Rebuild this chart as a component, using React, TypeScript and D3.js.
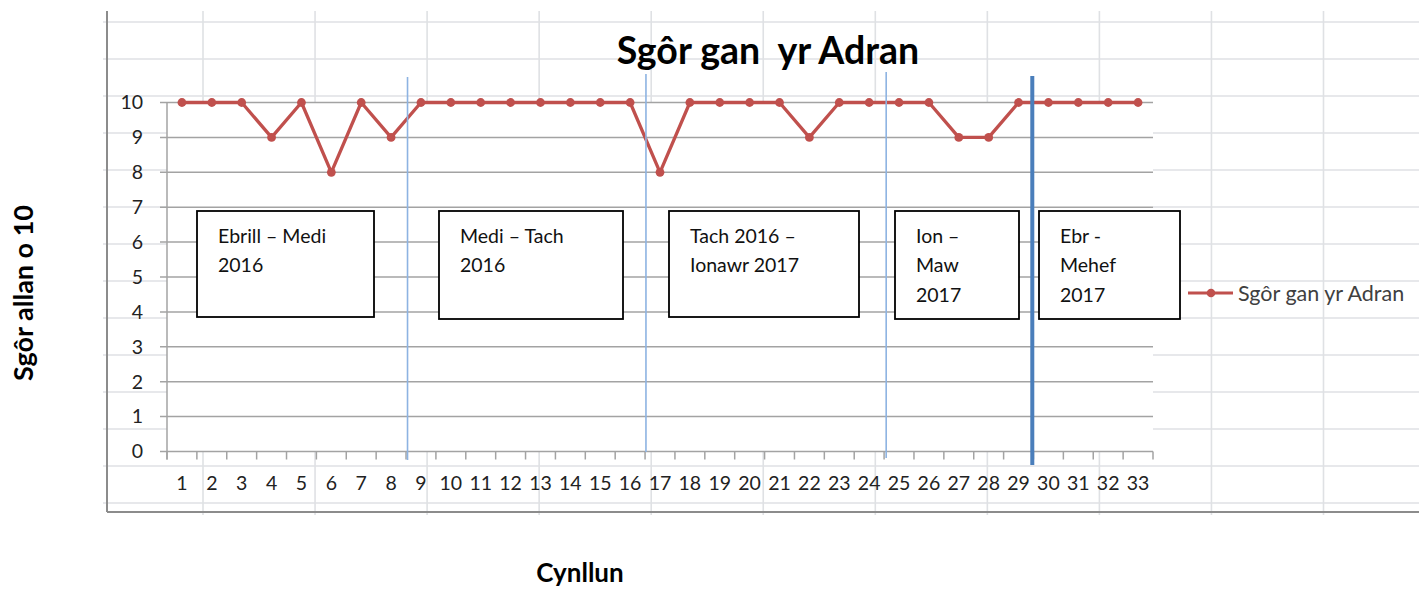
import React from "react";
import * as d3 from "d3";

// ---- data ----
const categories: number[] = d3.range(1, 34);
const scores: number[] = [
  10, 10, 10, 9, 10, 8, 10, 9, 10, 10, 10, 10, 10, 10, 10, 10,
  8, 10, 10, 10, 10, 9, 10, 10, 10, 10, 9, 9, 10, 10, 10, 10, 10,
];
const yTicks: number[] = d3.range(0, 11);
const seriesName = "Sgôr gan yr Adran";
const chartTitle = "Sgôr gan  yr Adran";
const yTitle = "Sgôr allan o 10";
const xTitle = "Cynllun";
// period dividers, in category-boundary units
const dividers: number[] = [8.05, 16.03, 24.07, 28.96];
const periodLabels: string[][] = [
  ["Ebrill – Medi", "2016"],
  ["Medi – Tach", "2016"],
  ["Tach 2016 –", "Ionawr 2017"],
  ["Ion –", "Maw", "2017"],
  ["Ebr -", "Mehef", "2017"],
];

// ---- layout ----
const W = 1419;
const H = 590;
const plot = { left: 167, right: 1153, top: 102.5, bottom: 451.5 };
const font = "Lato, 'Open Sans', sans-serif";
const dividerStyle = [
  { top: 77, bottom: 460, w: 1.6, c: "#8db3e2" },
  { top: 74, bottom: 452, w: 1.6, c: "#8db3e2" },
  { top: 72, bottom: 458, w: 1.6, c: "#8db3e2" },
  { top: 76, bottom: 465, w: 4, c: "#4a7ebb" },
];
const boxLayout = [
  { x0: 197, x1: 374, y0: 211, y1: 317 },
  { x0: 439, x1: 623, y0: 211, y1: 319 },
  { x0: 669, x1: 859, y0: 211, y1: 317 },
  { x0: 895, x1: 1019, y0: 211, y1: 319 },
  { x0: 1039, x1: 1180, y0: 211, y1: 319 },
];
const sheetRows = d3.range(0, 14).map((k) => 22 + 37 * k);
const sheetCols = d3.range(0, 11).map((k) => 203 + 112.05 * k);

export default function App() {
  const x = d3
    .scaleBand<number>()
    .domain(categories)
    .range([plot.left, plot.right])
    .padding(0);
  const xb = d3.scaleLinear().domain([0, categories.length]).range([plot.left, plot.right]);
  const y = d3.scaleLinear().domain([0, 10]).range([plot.bottom, plot.top]);
  const cx = (c: number) => (x(c) as number) + x.bandwidth() / 2;

  const line = d3
    .line<number>()
    .x((_, i) => cx(categories[i]))
    .y((d) => y(d));

  const gridColor = "#a3a3a3";
  const sheetColor = "#dfe1e4";
  const red = "#c0504d";

  return (
    <svg
      width={W}
      height={H}
      style={{ position: "absolute", left: 0, top: 0, background: "#fff", fontFamily: font }}
    >
      {/* spreadsheet background grid */}
      {sheetRows.map((r) => (
        <line key={"r" + r} x1={103} x2={W} y1={r} y2={r} stroke={sheetColor} strokeWidth={1.6} />
      ))}
      {sheetCols.map((c) => (
        <line key={"c" + c} x1={c} x2={c} y1={11} y2={515} stroke={sheetColor} strokeWidth={1.6} />
      ))}
      <line x1={107} x2={107} y1={11} y2={512} stroke="#8c8c8c" strokeWidth={2} />
      <line x1={107} x2={W} y1={512} y2={512} stroke="#8c8c8c" strokeWidth={2} />

      {/* plot area */}
      <rect
        x={plot.left}
        y={plot.top}
        width={plot.right - plot.left}
        height={plot.bottom - plot.top}
        fill="#fff"
      />
      {yTicks.map((t) => (
        <g key={"yt" + t}>
          <line x1={160} x2={plot.right} y1={y(t)} y2={y(t)} stroke={gridColor} strokeWidth={1.5} />
          <text
            x={143}
            y={y(t)}
            dy="0.35em"
            textAnchor="end"
            fontSize={19.5}
            fill="#222"
          >
            {t}
          </text>
        </g>
      ))}
      <line x1={plot.left} x2={plot.left} y1={plot.top} y2={plot.bottom + 8} stroke={gridColor} strokeWidth={1.5} />
      {d3.range(0, categories.length + 1).map((k) => (
        <line
          key={"xt" + k}
          x1={xb(k)}
          x2={xb(k)}
          y1={plot.bottom}
          y2={plot.bottom + 8}
          stroke={gridColor}
          strokeWidth={1.5}
        />
      ))}
      {categories.map((c) => (
        <text key={"xl" + c} x={cx(c)} y={490} textAnchor="middle" fontSize={19.5} fill="#222">
          {c}
        </text>
      ))}

      {/* series */}
      <path d={line(scores) || ""} fill="none" stroke={red} strokeWidth={3.3} strokeLinejoin="round" />
      {scores.map((s, i) => (
        <circle key={"p" + i} cx={cx(categories[i])} cy={y(s)} r={4.4} fill={red} />
      ))}

      {/* dividers */}
      {dividers.map((d, i) => (
        <line
          key={"d" + i}
          x1={xb(d)}
          x2={xb(d)}
          y1={dividerStyle[i].top}
          y2={dividerStyle[i].bottom}
          stroke={dividerStyle[i].c}
          strokeWidth={dividerStyle[i].w}
        />
      ))}

      {/* period boxes */}
      {periodLabels.map((lines, i) => {
        const b = boxLayout[i];
        return (
          <g key={"b" + i}>
            <rect
              x={b.x0}
              y={b.y0}
              width={b.x1 - b.x0}
              height={b.y1 - b.y0}
              fill="#fff"
              stroke="#000"
              strokeWidth={1.8}
            />
            {lines.map((l, j) => (
              <text key={j} x={b.x0 + 21} y={243 + 29.3 * j} fontSize={19.5} fill="#111">
                {l}
              </text>
            ))}
          </g>
        );
      })}

      {/* title */}
      <text
        x={768}
        y={64}
        textAnchor="middle"
        fontSize={37.5}
        fontWeight="bold"
        fill="#000"
        style={{ whiteSpace: "pre" }}
      >
        {chartTitle}
      </text>

      {/* legend */}
      <line x1={1188} x2={1233} y1={293} y2={293} stroke={red} strokeWidth={3} />
      <circle cx={1211} cy={293} r={4.3} fill={red} />
      <text x={1238} y={300.5} fontSize={21.5} fill="#404040">
        {seriesName}
      </text>

      {/* axis titles */}
      <text
        transform="translate(33,293) rotate(-90)"
        textAnchor="middle"
        fontSize={27}
        fontWeight="bold"
        fill="#000"
      >
        {yTitle}
      </text>
      <text x={580} y={582} textAnchor="middle" fontSize={26} fontWeight="bold" fill="#000">
        {xTitle}
      </text>
    </svg>
  );
}
